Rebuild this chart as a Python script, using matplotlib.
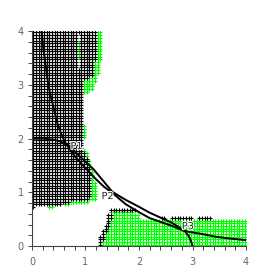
import numpy as np
import matplotlib
matplotlib.use('Agg')
import matplotlib.pyplot as plt
import matplotlib.patheffects as pe
from matplotlib.path import Path

# curves
curve_a_x = [0.0, 0.2, 0.4, 0.55, 0.7, 0.85, 1.0, 1.15, 1.3, 1.5, 1.75, 2.0, 2.2, 2.4, 2.6, 2.75, 2.85, 2.92, 2.97, 3.0]
curve_a_y = [2.0, 2.0, 1.98, 1.94, 1.85, 1.71, 1.57, 1.43, 1.25, 1.01, 0.86, 0.73, 0.62, 0.53, 0.44, 0.35, 0.28, 0.2, 0.1, 0.0]
curve_b_x = [0.18, 0.21, 0.25, 0.29, 0.33, 0.36, 0.41, 0.47, 0.55, 0.62, 0.68, 0.8, 1.0, 1.2, 1.35, 1.5,
             1.75, 2.0, 2.2, 2.4, 2.6, 2.8, 2.9, 3.2, 3.45, 3.7, 4.0]
curve_b_y = [4.0, 3.7, 3.4, 3.1, 2.88, 2.75, 2.55, 2.3, 2.08, 1.93, 1.84, 1.67, 1.45, 1.24, 1.1, 0.99,
             0.78, 0.63, 0.52, 0.45, 0.38, 0.3, 0.27, 0.22, 0.17, 0.14, 0.11]

black_region = [(0.0, 4.0), (1.2, 4.0), (1.2, 3.45), (1.15, 3.45), (1.13, 3.15), (0.95, 3.1), (0.93, 2.85),
                (0.93, 1.8), (1.0, 1.7), (1.07, 1.5), (1.12, 1.2), (1.12, 0.95), (1.05, 0.87), (0.8, 0.85),
                (0.6, 0.8), (0.5, 0.76), (0.0, 0.72)]
white_gap = [(0.86, 3.3), (0.91, 3.3), (0.91, 3.95), (0.86, 3.95)]
green_regions = [
    [(1.2, 4.0), (1.28, 4.0), (1.28, 3.45), (1.2, 3.1), (1.12, 2.9), (0.95, 2.85), (0.95, 3.1),
     (1.13, 3.15), (1.15, 3.45), (1.2, 3.45)],
    [(0.86, 3.5), (0.91, 3.5), (0.91, 3.82), (0.86, 3.82)],
    [(0.93, 2.0), (0.98, 2.0), (0.98, 2.25), (0.93, 2.25)],
    [(0.93, 1.8), (1.0, 1.8), (1.1, 1.55), (1.18, 1.2), (1.2, 0.95), (1.2, 0.85), (1.05, 0.87),
     (1.12, 0.95), (1.12, 1.2), (1.07, 1.5), (1.0, 1.7)],
    [(0.28, 0.7), (0.42, 0.7), (0.42, 0.76), (0.28, 0.76)],
    [(0.6, 0.76), (0.82, 0.8), (1.2, 0.84), (1.2, 0.88), (0.8, 0.85), (0.6, 0.8)],
    [(1.25, 0.0), (4.0, 0.0), (4.0, 0.52), (2.0, 0.52), (2.0, 0.62), (1.45, 0.65), (1.45, 0.55),
     (1.4, 0.42), (1.3, 0.2)],
]
black_edges = [
    [(1.22, 0.0), (1.3, 0.0), (1.35, 0.2), (1.45, 0.42), (1.5, 0.6), (1.42, 0.6), (1.38, 0.42), (1.27, 0.2)],
    [(1.45, 0.66), (1.95, 0.66), (1.95, 0.72), (1.45, 0.72)],
    [(2.4, 0.5), (2.5, 0.5), (2.5, 0.55), (2.4, 0.55)],
    [(2.58, 0.5), (2.98, 0.5), (2.98, 0.55), (2.58, 0.55)],
    [(3.1, 0.5), (3.36, 0.5), (3.36, 0.55), (3.1, 0.55)],
]

labels = ['P1', 'P2', 'P3']
label_x = [0.72, 1.3, 2.8]
label_y = [1.86, 0.93, 0.37]

step = 0.05
gx, gy = np.meshgrid(np.arange(0.025, 4.0, step), np.arange(0.025, 4.0, step))
pts = np.column_stack([gx.ravel(), gy.ravel()])


def inside(poly):
    return Path(poly).contains_points(pts)


green_mask = np.zeros(len(pts), bool)
for poly in green_regions:
    green_mask |= inside(poly)
black_mask = inside(black_region) & ~inside(white_gap)
for poly in black_edges:
    black_mask |= inside(poly)
green_mask &= ~black_mask

fig = plt.figure(figsize=(2.78, 2.78), dpi=100)
ax = fig.add_axes([0.115, 0.115, 0.77, 0.773])

ax.plot(pts[green_mask, 0], pts[green_mask, 1], '+', color='#00ff00', ms=2.8, mew=0.8)
ax.plot(pts[black_mask, 0], pts[black_mask, 1], '+', color='black', ms=2.8, mew=0.8)

ax.plot(curve_a_x, curve_a_y, color='black', lw=1.4)
ax.plot(curve_b_x, curve_b_y, color='black', lw=1.4)

for t, x, y in zip(labels, label_x, label_y):
    ax.text(x, y, t, fontsize=7, ha='left', va='center', color='#222222',
            path_effects=[pe.withStroke(linewidth=1.5, foreground='white')])

ax.set_xlim(0, 4)
ax.set_ylim(0, 4)
for s in ['top', 'right']:
    ax.spines[s].set_visible(False)
for s in ['left', 'bottom']:
    ax.spines[s].set_color('#444444')
    ax.spines[s].set_linewidth(0.8)
ax.set_xticks([0, 1, 2, 3, 4])
ax.set_yticks([0, 1, 2, 3, 4])
ax.set_xticks(np.arange(0, 4.01, 0.2), minor=True)
ax.set_yticks(np.arange(0, 4.01, 0.2), minor=True)
ax.tick_params(which='both', length=3, width=0.7, color='#444444', labelsize=7, labelcolor='#666666')
ax.tick_params(axis='x', pad=5)
ax.tick_params(axis='y', pad=3)

fig.savefig('out.png', dpi=100)
